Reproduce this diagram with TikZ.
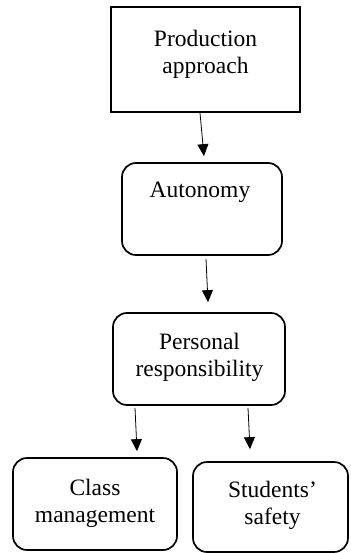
\documentclass[tikz,border=0pt]{standalone}
\usepackage{fontspec}
\setmainfont{Liberation Serif}
\usetikzlibrary{arrows.meta}
\tikzset{
  sqbox/.style={draw, line width=2pt, rectangle, inner sep=0pt},
  rbox/.style={draw, line width=1.7pt, rectangle, rounded corners=14pt, inner sep=0pt},
  lbl/.style={align=center, inner sep=0pt, font=\fontsize{23.5pt}{27pt}\selectfont},
  arr/.style={line width=0.8pt, -{Triangle[width=11pt,length=12pt]}}
}
\begin{document}
\begin{tikzpicture}[x=1pt,y=1pt]
\useasboundingbox (0,0) rectangle (350,-553);
\node[sqbox, minimum width=189pt, minimum height=105pt] (pa) at (205.5,-59.5) {};
\node[lbl] (tpa) at (205.5,-54) {Production\\approach};
\node[rbox, minimum width=160pt, minimum height=92pt] (au) at (202,-209) {};
\node[lbl] (tau) at (200,-192) {Autonomy};
\node[rbox, minimum width=172pt, minimum height=92pt] (pr) at (199,-359) {};
\node[lbl] (tpr) at (199.5,-357) {Personal\\responsibility};
\node[rbox, minimum width=164pt, minimum height=92pt] (cm) at (95,-504) {};
\node[lbl] (tcm) at (95,-503) {Class\\management};
\node[rbox, minimum width=155pt, minimum height=90pt] (ss) at (270.5,-507) {};
\node[lbl] (tss) at (272.5,-505) {Students’\\safety};
\draw[arr] ([xshift=-5.5pt]pa.south) -- ([xshift=2pt,yshift=6pt]au.north);
\draw[arr] ([xshift=4pt,yshift=-3pt]au.south) -- ([xshift=9pt,yshift=10pt]pr.north);
\draw[arr] ([xshift=-64pt,yshift=-2pt]pr.south) -- ([xshift=42pt,yshift=6pt]cm.north);
\draw[arr] ([xshift=49pt,yshift=-2pt]pr.south) -- ([xshift=-20.5pt,yshift=12pt]ss.north);
\end{tikzpicture}
\end{document}
